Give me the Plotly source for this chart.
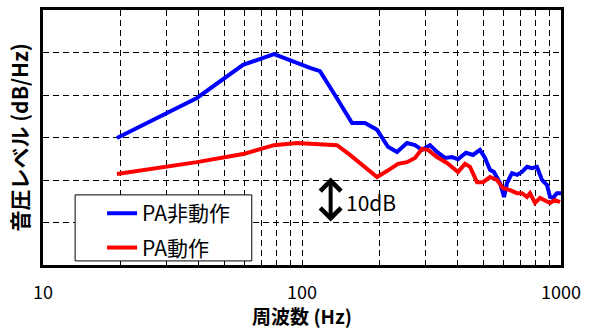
import math
import plotly.graph_objects as go

# Blue: PA non-operating
freq_off = [19.3, 39.3, 59.2, 78.0, 107.4, 117.3, 134.0, 156.0, 175.1, 194.9, 214.8, 232.7,
            254.3, 273.0, 290.6, 312.0, 332.0, 356.6, 379.5, 400.3, 429.7, 457.2, 486.4, 508.8,
            532.0, 551.0, 581.5, 602.6, 618.8, 647.0, 676.3, 706.6, 739.0, 772.6, 807.6, 844.4,
            883.1, 907.0, 931.0, 965.0, 1000.0]
level_off = [29.9, 39.3, 47.1, 49.6, 46.4, 45.6, 40.0, 33.4, 33.4, 31.8, 27.8, 26.6,
             28.7, 28.2, 27.1, 28.2, 26.6, 25.2, 25.4, 24.9, 26.4, 25.9, 27.1, 25.2,
             22.4, 21.9, 19.3, 16.0, 19.3, 21.6, 21.2, 21.9, 23.1, 22.8, 23.1, 20.0,
             18.8, 16.0, 15.8, 16.9, 16.9]

# Red: PA operating
freq_on = [19.3, 30.1, 39.3, 59.2, 78.0, 95.6, 107.4, 136.5, 153.2, 175.1, 194.9, 212.8,
           234.8, 254.3, 273.0, 290.6, 306.6, 332.0, 362.9, 400.3, 426.0, 445.3, 474.0, 500.0,
           532.0, 566.0, 597.0, 635.5, 676.0, 706.6, 739.0, 759.0, 793.5, 829.7, 867.0, 907.0,
           948.0, 991.0]
level_on = [21.4, 23.1, 24.2, 26.1, 28.2, 28.7, 28.5, 28.2, 25.9, 23.1, 20.7, 22.1,
            23.8, 24.2, 25.2, 27.3, 27.1, 25.4, 24.0, 21.9, 23.8, 23.1, 19.5, 19.5,
            20.7, 20.0, 18.1, 17.6, 16.9, 16.9, 16.0, 16.9, 14.6, 15.8, 15.3, 14.6,
            15.3, 14.8]

x_tickvals = [10, 20, 30, 40, 50, 60, 70, 80, 90, 100, 200, 300, 400, 500, 600, 700, 800, 900, 1000]
x_ticktext = ["10", "", "", "", "", "", "", "", "", "100", "", "", "", "", "", "", "", "", "1000"]

font_family = "Noto Sans CJK JP"

fig = go.Figure()
fig.add_trace(go.Scatter(x=freq_off, y=level_off, mode="lines", name="PA非動作",
                         legendgroup="a", line=dict(color="#0000FF", width=4)))
fig.add_trace(go.Scatter(x=freq_on, y=level_on, mode="lines", name="PA動作",
                         legendgroup="b", line=dict(color="#FF0000", width=4)))

# 10 dB scale arrow
arrow_x = math.log10(129)
fig.add_annotation(x=arrow_x, y=20.6, ax=arrow_x, ay=9.9, xref="x", yref="y", axref="x", ayref="y",
                   showarrow=True, arrowhead=4, arrowside="end+start", arrowsize=1.0,
                   arrowwidth=4, arrowcolor="black", text="")
fig.add_annotation(x=math.log10(145), y=14.9, xref="x", yref="y", text="10dB", showarrow=False,
                   xanchor="left", font=dict(size=21, color="black", family=font_family))

# legend frame
fig.add_shape(type="rect", xref="paper", yref="paper", x0=0.062, x1=0.403, y0=0.016, y1=0.275,
              fillcolor="white", line=dict(color="black", width=1), layer="above")

fig.update_layout(
    width=593, height=329,
    margin=dict(l=43, r=32, t=10, b=64, autoexpand=False),
    paper_bgcolor="white", plot_bgcolor="white",
    font=dict(family=font_family, color="black"),
    showlegend=True,
    legend=dict(x=0.114, y=0.282, xanchor="left", yanchor="top",
                bgcolor="rgba(0,0,0,0)", borderwidth=0,
                font=dict(size=21, family=font_family, color="black"),
                tracegroupgap=4),
    xaxis=dict(type="log", range=[1, 3], tickvals=x_tickvals, ticktext=x_ticktext,
               showgrid=True, gridcolor="black", gridwidth=1.3, griddash="6px,4px",
               showline=True, linecolor="black", linewidth=3, mirror=True,
               ticks="", ticklabelstandoff=9, zeroline=False, automargin=False,
               tickfont=dict(size=18, family=font_family, color="black"),
               title=dict(text="<b>周波数 (Hz)</b>", standoff=9,
                          font=dict(size=19, family=font_family, color="black"))),
    yaxis=dict(range=[0, 60], dtick=10, showticklabels=False,
               showgrid=True, gridcolor="black", gridwidth=1.3, griddash="6px,4px",
               showline=True, linecolor="black", linewidth=3, mirror=True,
               ticks="", zeroline=False, automargin=False,
               title=dict(text="<b>音圧レベル (dB/Hz)</b>", standoff=6,
                          font=dict(size=21, family=font_family, color="black"))),
)

fig.write_html("out.html", config={"displayModeBar": False},
               post_script="document.body.style.margin='0px';")
